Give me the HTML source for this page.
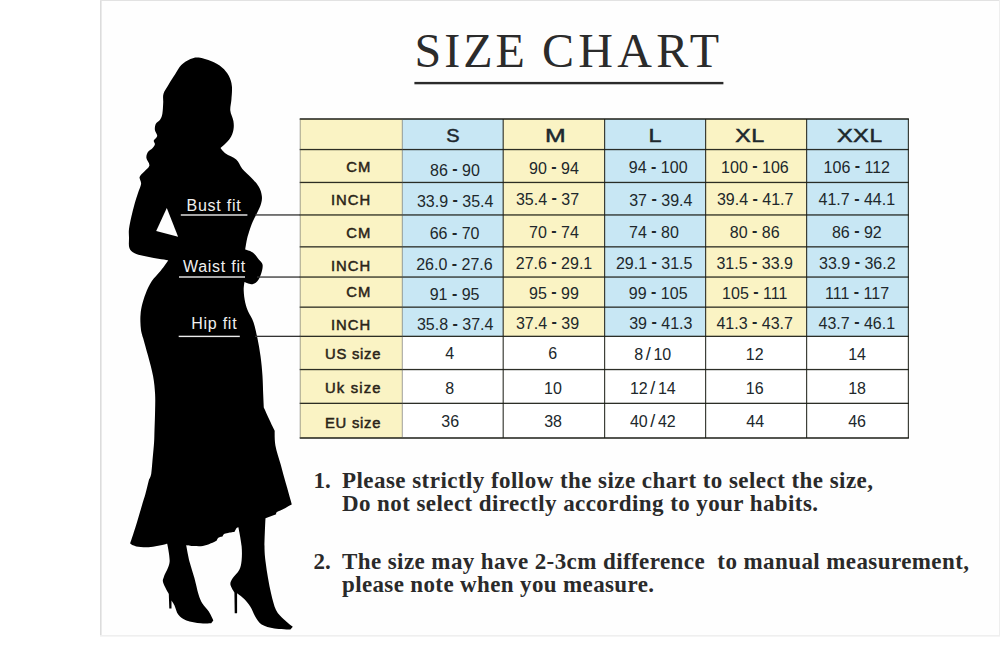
<!DOCTYPE html><html><head><meta charset="utf-8"><title>Size Chart</title>
<style>html,body{margin:0;padding:0;background:#fff}svg{display:block}text{font-family:"Liberation Sans",sans-serif}.n{font-size:16px;fill:#20272b;text-anchor:middle}.h{font-size:19px;fill:#20272b;text-anchor:middle;stroke:#1f2b33;stroke-width:.5px}.l{font-size:14.8px;fill:#2a2418;stroke:#2a2418;stroke-width:.5px}.f{font-size:16px;fill:#f0f0f0;letter-spacing:.75px}.s{font-family:"Liberation Serif",serif;font-weight:bold;font-size:23px;fill:#2a2a2a}.t{font-family:"Liberation Serif",serif;font-size:48px;fill:#2b2b2b}</style></head><body>
<svg width="1000" height="663" viewBox="0 0 1000 663">
<rect x="0" y="0" width="1000" height="663" fill="#fff"/>
<rect x="100" y="0" width="900" height="635" fill="#fefefe"/>
<rect x="100" y="0" width="1.6" height="636" fill="#dcdcdc"/>
<rect x="100" y="0" width="900" height="1" fill="#e2e2e2"/>
<rect x="100" y="635" width="900" height="1.6" fill="#efefef"/>
<rect x="999" y="0" width="1" height="636" fill="#eee"/>
<text class="t" x="414.6" y="67" letter-spacing="3.0">SIZE</text>
<text class="t" x="542" y="67" letter-spacing="4.3">CHART</text>
<rect x="414.4" y="81.9" width="309" height="2.4" fill="#2b2b2b"/>
<rect x="300.2" y="119.0" width="102.1" height="30.6" fill="#faf3c4"/>
<rect x="300.2" y="149.6" width="102.1" height="32.9" fill="#faf3c4"/>
<rect x="300.2" y="182.5" width="102.1" height="32.5" fill="#faf3c4"/>
<rect x="300.2" y="215.0" width="102.1" height="31.8" fill="#faf3c4"/>
<rect x="300.2" y="246.8" width="102.1" height="30.2" fill="#faf3c4"/>
<rect x="300.2" y="277.0" width="102.1" height="30.1" fill="#faf3c4"/>
<rect x="300.2" y="307.1" width="102.1" height="29.2" fill="#faf3c4"/>
<rect x="300.2" y="336.3" width="102.1" height="33.2" fill="#faf3c4"/>
<rect x="300.2" y="369.5" width="102.1" height="33.8" fill="#faf3c4"/>
<rect x="300.2" y="403.3" width="102.1" height="34.7" fill="#faf3c4"/>
<rect x="402.3" y="119.0" width="100.9" height="30.6" fill="#c8e7f4"/>
<rect x="402.3" y="149.6" width="100.9" height="32.9" fill="#c8e7f4"/>
<rect x="402.3" y="182.5" width="100.9" height="32.5" fill="#c8e7f4"/>
<rect x="402.3" y="215.0" width="100.9" height="31.8" fill="#c8e7f4"/>
<rect x="402.3" y="246.8" width="100.9" height="30.2" fill="#c8e7f4"/>
<rect x="402.3" y="277.0" width="100.9" height="30.1" fill="#c8e7f4"/>
<rect x="402.3" y="307.1" width="100.9" height="29.2" fill="#c8e7f4"/>
<rect x="402.3" y="336.3" width="100.9" height="33.2" fill="#ffffff"/>
<rect x="402.3" y="369.5" width="100.9" height="33.8" fill="#ffffff"/>
<rect x="402.3" y="403.3" width="100.9" height="34.7" fill="#ffffff"/>
<rect x="503.2" y="119.0" width="101.4" height="30.6" fill="#faf3c4"/>
<rect x="503.2" y="149.6" width="101.4" height="32.9" fill="#faf3c4"/>
<rect x="503.2" y="182.5" width="101.4" height="32.5" fill="#faf3c4"/>
<rect x="503.2" y="215.0" width="101.4" height="31.8" fill="#faf3c4"/>
<rect x="503.2" y="246.8" width="101.4" height="30.2" fill="#faf3c4"/>
<rect x="503.2" y="277.0" width="101.4" height="30.1" fill="#faf3c4"/>
<rect x="503.2" y="307.1" width="101.4" height="29.2" fill="#faf3c4"/>
<rect x="503.2" y="336.3" width="101.4" height="33.2" fill="#ffffff"/>
<rect x="503.2" y="369.5" width="101.4" height="33.8" fill="#ffffff"/>
<rect x="503.2" y="403.3" width="101.4" height="34.7" fill="#ffffff"/>
<rect x="604.6" y="119.0" width="101.0" height="30.6" fill="#c8e7f4"/>
<rect x="604.6" y="149.6" width="101.0" height="32.9" fill="#c8e7f4"/>
<rect x="604.6" y="182.5" width="101.0" height="32.5" fill="#c8e7f4"/>
<rect x="604.6" y="215.0" width="101.0" height="31.8" fill="#c8e7f4"/>
<rect x="604.6" y="246.8" width="101.0" height="30.2" fill="#c8e7f4"/>
<rect x="604.6" y="277.0" width="101.0" height="30.1" fill="#c8e7f4"/>
<rect x="604.6" y="307.1" width="101.0" height="29.2" fill="#c8e7f4"/>
<rect x="604.6" y="336.3" width="101.0" height="33.2" fill="#ffffff"/>
<rect x="604.6" y="369.5" width="101.0" height="33.8" fill="#ffffff"/>
<rect x="604.6" y="403.3" width="101.0" height="34.7" fill="#ffffff"/>
<rect x="705.6" y="119.0" width="101.0" height="30.6" fill="#faf3c4"/>
<rect x="705.6" y="149.6" width="101.0" height="32.9" fill="#faf3c4"/>
<rect x="705.6" y="182.5" width="101.0" height="32.5" fill="#faf3c4"/>
<rect x="705.6" y="215.0" width="101.0" height="31.8" fill="#faf3c4"/>
<rect x="705.6" y="246.8" width="101.0" height="30.2" fill="#faf3c4"/>
<rect x="705.6" y="277.0" width="101.0" height="30.1" fill="#faf3c4"/>
<rect x="705.6" y="307.1" width="101.0" height="29.2" fill="#faf3c4"/>
<rect x="705.6" y="336.3" width="101.0" height="33.2" fill="#ffffff"/>
<rect x="705.6" y="369.5" width="101.0" height="33.8" fill="#ffffff"/>
<rect x="705.6" y="403.3" width="101.0" height="34.7" fill="#ffffff"/>
<rect x="806.6" y="119.0" width="101.8" height="30.6" fill="#c8e7f4"/>
<rect x="806.6" y="149.6" width="101.8" height="32.9" fill="#c8e7f4"/>
<rect x="806.6" y="182.5" width="101.8" height="32.5" fill="#c8e7f4"/>
<rect x="806.6" y="215.0" width="101.8" height="31.8" fill="#c8e7f4"/>
<rect x="806.6" y="246.8" width="101.8" height="30.2" fill="#c8e7f4"/>
<rect x="806.6" y="277.0" width="101.8" height="30.1" fill="#c8e7f4"/>
<rect x="806.6" y="307.1" width="101.8" height="29.2" fill="#c8e7f4"/>
<rect x="806.6" y="336.3" width="101.8" height="33.2" fill="#ffffff"/>
<rect x="806.6" y="369.5" width="101.8" height="33.8" fill="#ffffff"/>
<rect x="806.6" y="403.3" width="101.8" height="34.7" fill="#ffffff"/>
<path d="M198.7,57.5C202.2,57.9 207.6,59.6 211.5,61.3C215.4,62.9 219.1,65.0 222.0,67.4C224.9,69.8 227.2,72.6 228.8,75.7C230.5,78.8 231.5,82.2 231.9,86.2C232.3,90.2 231.7,95.8 231.4,99.8C231.1,103.8 230.0,106.9 230.3,110.4C230.6,113.9 232.9,117.6 233.4,120.9C233.9,124.2 234.0,127.0 233.4,130.0C232.8,133.0 231.8,136.0 229.6,139.0C227.4,142.0 220.5,148.1 220.5,148.1C220.5,148.1 223.0,151.7 225.6,153.6C228.2,155.5 233.4,157.1 236.2,159.6C239.0,162.1 239.7,165.7 242.2,168.7C244.7,171.7 248.5,174.7 251.3,177.7C254.1,180.7 257.1,183.8 258.8,186.8C260.6,189.8 261.4,193.0 261.8,195.8C262.2,198.6 261.9,200.6 261.1,203.4C260.4,206.2 258.7,209.4 257.3,212.4C255.9,215.4 254.2,218.2 252.8,221.5C251.4,224.8 250.0,228.9 249.0,232.0C248.0,235.1 247.4,237.1 246.8,240.0C246.2,242.9 245.2,249.6 245.2,249.6C245.2,249.6 250.5,251.0 252.8,252.6C255.1,254.2 257.2,257.4 258.8,259.4C260.4,261.4 262.2,262.3 262.6,264.7C263.0,267.1 262.0,271.0 261.1,273.8C260.2,276.6 258.9,279.6 257.3,281.3C255.7,283.1 253.4,284.2 251.3,284.3C249.2,284.4 244.5,282.1 244.5,282.1C244.5,282.1 243.6,287.0 243.7,290.4C243.8,293.8 244.4,298.8 245.2,302.4C246.0,306.0 247.0,308.7 248.4,312.0C249.8,315.3 251.9,317.6 253.4,322.0C254.9,326.4 256.2,332.4 257.4,338.1C258.6,343.8 259.6,349.8 260.5,356.1C261.4,362.5 262.1,369.8 262.5,376.2C262.9,382.6 263.0,389.1 263.2,394.3C263.4,399.5 263.8,407.4 263.8,407.4C263.8,407.4 268.3,417.3 270.1,421.2C271.9,425.1 274.7,430.7 274.7,430.7C274.7,430.7 274.4,439.8 275.4,445.4C276.4,451.0 278.9,458.1 280.7,464.4C282.4,470.7 284.0,476.8 285.9,483.4C287.8,490.0 291.9,504.2 291.9,504.2C291.9,504.2 287.0,507.1 284.5,508.4C282.0,509.7 278.4,511.0 277.0,512.0C275.6,513.0 276.2,514.2 276.2,514.2L265.5,518.3C265.5,518.3 264.5,538.7 264.5,546.0C264.5,553.3 265.0,556.7 265.6,562.0C266.2,567.3 267.1,572.7 268.0,578.0C268.9,583.3 269.9,588.7 271.2,594.0C272.5,599.3 273.9,605.7 276.0,610.0C278.1,614.3 281.2,616.8 284.0,619.6C286.8,622.4 292.8,626.8 292.8,626.8L290.4,629.5C290.4,629.5 279.2,629.2 274.4,628.4C269.6,627.5 264.8,626.4 261.6,624.4C258.4,622.4 257.1,619.3 255.2,616.4C253.3,613.5 252.3,609.7 250.4,606.8C248.5,603.9 246.2,601.1 244.0,598.8C241.8,596.5 237.1,593.2 237.1,593.2L237.1,613.2L234.7,613.2L234.4,592.4C234.4,592.4 230.7,586.8 230.4,584.4C230.1,582.0 231.3,580.4 232.8,578.0C234.3,575.6 237.7,572.9 239.2,570.0C240.7,567.1 241.2,564.4 241.6,560.4C242.0,556.4 242.1,551.5 241.6,546.0C241.1,540.5 238.4,527.3 238.4,527.3C238.4,527.3 237.0,527.5 236.4,528.2C235.8,529.0 234.6,531.8 234.6,531.8C234.6,531.8 229.8,532.6 228.0,533.0C226.2,533.4 224.7,533.6 223.8,534.2C222.9,534.8 222.6,536.6 222.6,536.6C222.6,536.6 219.4,537.1 218.4,537.8C217.4,538.5 216.6,540.8 216.6,540.8C216.6,540.8 212.3,542.9 210.0,543.8C207.7,544.7 205.5,545.6 202.8,546.0C200.1,546.4 196.8,546.2 194.0,546.1C191.2,546.0 186.2,545.3 186.2,545.3C186.2,545.3 188.2,556.5 189.6,562.0C191.0,567.5 192.9,572.7 194.4,578.0C195.9,583.3 197.1,589.7 198.4,594.0C199.7,598.3 200.7,600.7 202.4,603.6C204.1,606.5 207.0,608.8 208.8,611.6C210.6,614.4 213.3,620.4 213.3,620.4L211.2,623.3C211.2,623.3 204.9,623.8 200.8,623.3C196.7,622.8 190.1,621.8 186.4,620.4C182.7,619.0 180.4,617.3 178.4,614.8C176.4,612.3 175.6,607.6 174.4,605.2C173.2,602.8 171.5,600.4 171.5,600.4L171.5,608.4L169.3,608.4L168.8,594.0C168.8,594.0 164.0,585.7 163.2,582.8C162.4,579.9 162.9,579.9 164.0,576.4C165.1,572.9 169.1,567.5 169.6,562.0C170.1,556.5 167.2,543.7 167.2,543.7C167.2,543.7 156.0,546.5 150.8,547.0C145.7,547.5 139.8,547.0 136.3,546.4C132.9,545.8 130.1,543.6 130.1,543.6C130.1,543.6 133.6,533.3 135.6,526.8C137.6,520.3 140.6,510.1 142.2,504.6C143.8,499.1 144.2,498.2 145.4,494.0C146.6,489.8 149.1,479.2 149.1,479.2C149.1,479.2 150.6,477.5 151.2,474.0C151.8,470.5 152.2,463.4 152.7,458.1C153.2,452.8 153.8,446.7 154.1,442.0C154.4,437.3 154.3,435.3 154.5,430.0C154.7,424.7 155.0,416.2 155.1,410.3C155.2,404.4 155.4,400.0 155.1,394.3C154.8,388.6 154.3,382.6 153.1,376.2C151.9,369.8 149.8,362.5 148.1,356.1C146.4,349.8 144.3,342.5 143.1,338.1C141.9,333.8 141.4,332.7 141.0,330.0C140.6,327.3 140.5,324.7 140.4,322.0C140.3,319.3 140.3,316.8 140.6,314.0C140.8,311.2 141.1,308.8 141.9,305.4C142.8,302.0 144.1,297.4 145.7,293.4C147.3,289.4 149.2,285.1 151.7,281.3C154.2,277.5 157.9,274.2 160.7,270.7C163.5,267.2 168.3,260.2 168.3,260.2C168.3,260.2 155.7,258.3 150.2,257.2C144.7,256.1 138.6,254.9 135.1,253.4C131.6,251.9 130.4,250.8 129.4,248.1C128.4,245.4 129.1,240.7 129.0,237.5C128.9,234.3 128.6,232.4 129.0,229.0C129.4,225.6 130.4,221.0 131.3,217.0C132.2,213.0 133.2,208.9 134.3,204.9C135.4,200.9 137.0,196.3 138.1,192.8C139.2,189.3 140.8,186.4 141.1,183.8C141.3,181.2 139.1,179.0 139.6,177.0C140.1,175.0 142.5,173.6 144.1,171.7C145.7,169.8 149.0,167.9 149.4,165.6C149.8,163.3 146.7,160.4 146.4,158.1C146.2,155.8 146.9,153.6 147.9,152.0C148.9,150.4 151.2,149.6 152.4,148.3C153.6,147.0 154.7,145.6 154.9,144.3C155.1,143.0 153.4,141.9 153.8,140.5C154.2,139.1 157.0,137.8 157.2,136.0C157.4,134.2 155.2,132.0 154.9,130.0C154.7,128.0 154.8,125.7 155.7,123.9C156.6,122.1 159.1,121.2 160.2,119.4C161.3,117.7 161.9,116.2 162.4,113.4C162.9,110.6 163.0,106.1 163.2,102.8C163.4,99.5 162.6,96.8 163.5,93.8C164.4,90.8 166.5,88.0 168.5,84.7C170.5,81.4 173.2,77.4 175.3,74.1C177.4,70.8 178.8,67.6 181.3,65.1C183.8,62.6 187.5,60.4 190.4,59.1C193.3,57.8 195.2,57.1 198.7,57.5Z" fill="#000"/>
<path d="M166.8,207.9 L178.1,236.7 L156.2,231.0 Z" fill="#fefefe"/>
<rect x="255.0" y="214.3" width="45.2" height="1.3" fill="#333"/>
<rect x="257.0" y="276.4" width="43.2" height="1.3" fill="#333"/>
<rect x="255.0" y="335.7" width="45.2" height="1.3" fill="#333"/>
<rect x="299.7" y="118.2" width="609.2" height="1.60" fill="#15170f" fill-opacity=".9"/>
<rect x="299.7" y="148.9" width="609.2" height="1.30" fill="#15170f" fill-opacity=".9"/>
<rect x="299.7" y="181.8" width="609.2" height="1.30" fill="#15170f" fill-opacity=".9"/>
<rect x="299.7" y="214.3" width="609.2" height="1.30" fill="#15170f" fill-opacity=".9"/>
<rect x="299.7" y="246.2" width="609.2" height="1.30" fill="#15170f" fill-opacity=".9"/>
<rect x="299.7" y="276.4" width="609.2" height="1.30" fill="#15170f" fill-opacity=".9"/>
<rect x="299.7" y="306.5" width="609.2" height="1.30" fill="#15170f" fill-opacity=".9"/>
<rect x="299.7" y="335.7" width="609.2" height="1.30" fill="#15170f" fill-opacity=".9"/>
<rect x="299.7" y="368.9" width="609.2" height="1.30" fill="#15170f" fill-opacity=".9"/>
<rect x="299.7" y="402.7" width="609.2" height="1.30" fill="#15170f" fill-opacity=".9"/>
<rect x="299.7" y="437.2" width="609.2" height="1.60" fill="#15170f" fill-opacity=".9"/>
<rect x="299.70" y="119.0" width="1.0" height="319.0" fill="#55564c" fill-opacity=".55"/>
<rect x="401.80" y="119.0" width="1.0" height="319.0" fill="#55564c" fill-opacity=".55"/>
<rect x="502.60" y="119.0" width="1.2" height="319.0" fill="#1c1e16" fill-opacity=".85"/>
<rect x="604.00" y="119.0" width="1.2" height="319.0" fill="#1c1e16" fill-opacity=".85"/>
<rect x="705.00" y="119.0" width="1.2" height="319.0" fill="#1c1e16" fill-opacity=".85"/>
<rect x="806.00" y="119.0" width="1.2" height="319.0" fill="#1c1e16" fill-opacity=".85"/>
<rect x="907.80" y="119.0" width="1.2" height="319.0" fill="#1c1e16" fill-opacity=".85"/>
<text class="f" x="186.5" y="210.5">Bust fit</text>
<rect x="180.8" y="214.3" width="66.6" height="1.4" fill="#ededed"/>
<text class="f" x="182.9" y="271.7">Waist fit</text>
<rect x="179" y="276.3" width="66" height="1.4" fill="#ededed"/>
<text class="f" x="191.2" y="329.4">Hip fit</text>
<rect x="178.7" y="335.7" width="61.1" height="1.4" fill="#ededed"/>
<text class="h" style="text-anchor:start" transform="translate(446.29,142.2) scale(1.051,1)">S</text>
<text class="h" style="text-anchor:start" transform="translate(544.91,142.2) scale(1.306,1)">M</text>
<text class="h" style="text-anchor:start" transform="translate(648.53,142.2) scale(1.229,1)">L</text>
<text class="h" style="text-anchor:start" transform="translate(735.23,142.2) scale(1.224,1)">X</text>
<text class="h" style="text-anchor:start" transform="translate(751.33,142.2) scale(1.229,1)">L</text>
<text class="h" style="text-anchor:start" transform="translate(836.92,142.2) scale(1.249,1)">X</text>
<text class="h" style="text-anchor:start" transform="translate(853.12,142.2) scale(1.249,1)">X</text>
<text class="h" style="text-anchor:start" transform="translate(869.59,142.2) scale(1.194,1)">L</text>
<text class="l" x="371.3" y="172.0" text-anchor="end" letter-spacing="1.05">CM</text>
<text class="l" x="371.3" y="204.5" text-anchor="end" letter-spacing="1.05">INCH</text>
<text class="l" x="371.3" y="237.6" text-anchor="end" letter-spacing="1.05">CM</text>
<text class="l" x="371.3" y="271.2" text-anchor="end" letter-spacing="1.05">INCH</text>
<text class="l" x="371.3" y="297.3" text-anchor="end" letter-spacing="1.05">CM</text>
<text class="l" x="371.3" y="329.6" text-anchor="end" letter-spacing="1.05">INCH</text>
<text class="l" x="325" y="359.1" letter-spacing="0.75">US size</text>
<text class="l" x="325" y="392.8" letter-spacing="1.15">Uk size</text>
<text class="l" x="325" y="427.5" letter-spacing="0.75">EU size</text>
<text class="n" x="455.0" y="175.5">86 <tspan dy="-1.7" font-weight="bold">-</tspan><tspan dy="1.7"> 90</tspan></text>
<text class="n" x="455.2" y="206.5">33.9 <tspan dy="-1.7" font-weight="bold">-</tspan><tspan dy="1.7"> 35.4</tspan></text>
<text class="n" x="454.6" y="239.4">66 <tspan dy="-1.7" font-weight="bold">-</tspan><tspan dy="1.7"> 70</tspan></text>
<text class="n" x="454.4" y="270.3">26.0 <tspan dy="-1.7" font-weight="bold">-</tspan><tspan dy="1.7"> 27.6</tspan></text>
<text class="n" x="454.6" y="300.2">91 <tspan dy="-1.7" font-weight="bold">-</tspan><tspan dy="1.7"> 95</tspan></text>
<text class="n" x="455.2" y="330.4">35.8 <tspan dy="-1.7" font-weight="bold">-</tspan><tspan dy="1.7"> 37.4</tspan></text>
<text class="n" x="449.8" y="359.4">4</text>
<text class="n" x="449.8" y="393.7">8</text>
<text class="n" x="450.2" y="427.0">36</text>
<text class="n" x="554.0" y="173.6">90 <tspan dy="-1.7" font-weight="bold">-</tspan><tspan dy="1.7"> 94</tspan></text>
<text class="n" x="547.5" y="204.6">35.4 <tspan dy="-1.7" font-weight="bold">-</tspan><tspan dy="1.7"> 37</tspan></text>
<text class="n" x="554.0" y="238.1">70 <tspan dy="-1.7" font-weight="bold">-</tspan><tspan dy="1.7"> 74</tspan></text>
<text class="n" x="554.0" y="268.8">27.6 <tspan dy="-1.7" font-weight="bold">-</tspan><tspan dy="1.7"> 29.1</tspan></text>
<text class="n" x="554.0" y="298.9">95 <tspan dy="-1.7" font-weight="bold">-</tspan><tspan dy="1.7"> 99</tspan></text>
<text class="n" x="547.5" y="328.8">37.4 <tspan dy="-1.7" font-weight="bold">-</tspan><tspan dy="1.7"> 39</tspan></text>
<text class="n" x="552.8" y="359.4">6</text>
<text class="n" x="553.0" y="393.7">10</text>
<text class="n" x="553.1" y="427.0">38</text>
<text class="n" x="658.2" y="173.4">94 <tspan dy="-1.7" font-weight="bold">-</tspan><tspan dy="1.7"> 100</tspan></text>
<text class="n" x="660.8" y="206.0">37 <tspan dy="-1.7" font-weight="bold">-</tspan><tspan dy="1.7"> 39.4</tspan></text>
<text class="n" x="653.9" y="238.0">74 <tspan dy="-1.7" font-weight="bold">-</tspan><tspan dy="1.7"> 80</tspan></text>
<text class="n" x="654.2" y="269.0">29.1 <tspan dy="-1.7" font-weight="bold">-</tspan><tspan dy="1.7"> 31.5</tspan></text>
<text class="n" x="658.2" y="298.6">99 <tspan dy="-1.7" font-weight="bold">-</tspan><tspan dy="1.7"> 105</tspan></text>
<text class="n" x="660.8" y="329.0">39 <tspan dy="-1.7" font-weight="bold">-</tspan><tspan dy="1.7"> 41.3</tspan></text>
<text class="n" x="652.8" y="360.0">8<tspan dx="2.6" font-size="18">/</tspan><tspan dx="2.6">10</tspan></text>
<text class="n" x="652.8" y="394.2">12<tspan dx="2.6" font-size="18">/</tspan><tspan dx="2.6">14</tspan></text>
<text class="n" x="652.8" y="427.2">40<tspan dx="2.6" font-size="18">/</tspan><tspan dx="2.6">42</tspan></text>
<text class="n" x="754.9" y="173.0">100 <tspan dy="-1.7" font-weight="bold">-</tspan><tspan dy="1.7"> 106</tspan></text>
<text class="n" x="755.2" y="205.4">39.4 <tspan dy="-1.7" font-weight="bold">-</tspan><tspan dy="1.7"> 41.7</tspan></text>
<text class="n" x="754.7" y="238.0">80 <tspan dy="-1.7" font-weight="bold">-</tspan><tspan dy="1.7"> 86</tspan></text>
<text class="n" x="754.7" y="269.0">31.5 <tspan dy="-1.7" font-weight="bold">-</tspan><tspan dy="1.7"> 33.9</tspan></text>
<text class="n" x="754.7" y="298.6">105 <tspan dy="-1.7" font-weight="bold">-</tspan><tspan dy="1.7"> 111</tspan></text>
<text class="n" x="754.7" y="329.0">41.3 <tspan dy="-1.7" font-weight="bold">-</tspan><tspan dy="1.7"> 43.7</tspan></text>
<text class="n" x="754.7" y="360.0">12</text>
<text class="n" x="754.7" y="394.2">16</text>
<text class="n" x="755.2" y="427.2">44</text>
<text class="n" x="856.8" y="173.0">106 <tspan dy="-1.7" font-weight="bold">-</tspan><tspan dy="1.7"> 112</tspan></text>
<text class="n" x="856.8" y="205.4">41.7 <tspan dy="-1.7" font-weight="bold">-</tspan><tspan dy="1.7"> 44.1</tspan></text>
<text class="n" x="856.8" y="238.0">86 <tspan dy="-1.7" font-weight="bold">-</tspan><tspan dy="1.7"> 92</tspan></text>
<text class="n" x="857.3" y="269.0">33.9 <tspan dy="-1.7" font-weight="bold">-</tspan><tspan dy="1.7"> 36.2</tspan></text>
<text class="n" x="857.1" y="298.6">111 <tspan dy="-1.7" font-weight="bold">-</tspan><tspan dy="1.7"> 117</tspan></text>
<text class="n" x="856.8" y="329.0">43.7 <tspan dy="-1.7" font-weight="bold">-</tspan><tspan dy="1.7"> 46.1</tspan></text>
<text class="n" x="857.1" y="360.0">14</text>
<text class="n" x="857.1" y="394.2">18</text>
<text class="n" x="857.1" y="427.2">46</text>
<text class="s" x="313.5" y="488.3">1.</text>
<text class="s" x="342" y="488.3" textLength="531" lengthAdjust="spacing">Please strictly follow the size chart to select the size,</text>
<text class="s" x="342" y="511" textLength="476" lengthAdjust="spacing">Do not select directly according to your habits.</text>
<text class="s" x="313.5" y="568.8">2.</text>
<text class="s" x="342" y="568.8" textLength="627" lengthAdjust="spacing" xml:space="preserve">The size may have 2-3cm difference  to manual measurement,</text>
<text class="s" x="342" y="591.5" textLength="312" lengthAdjust="spacing">please note when you measure.</text>
</svg></body></html>
